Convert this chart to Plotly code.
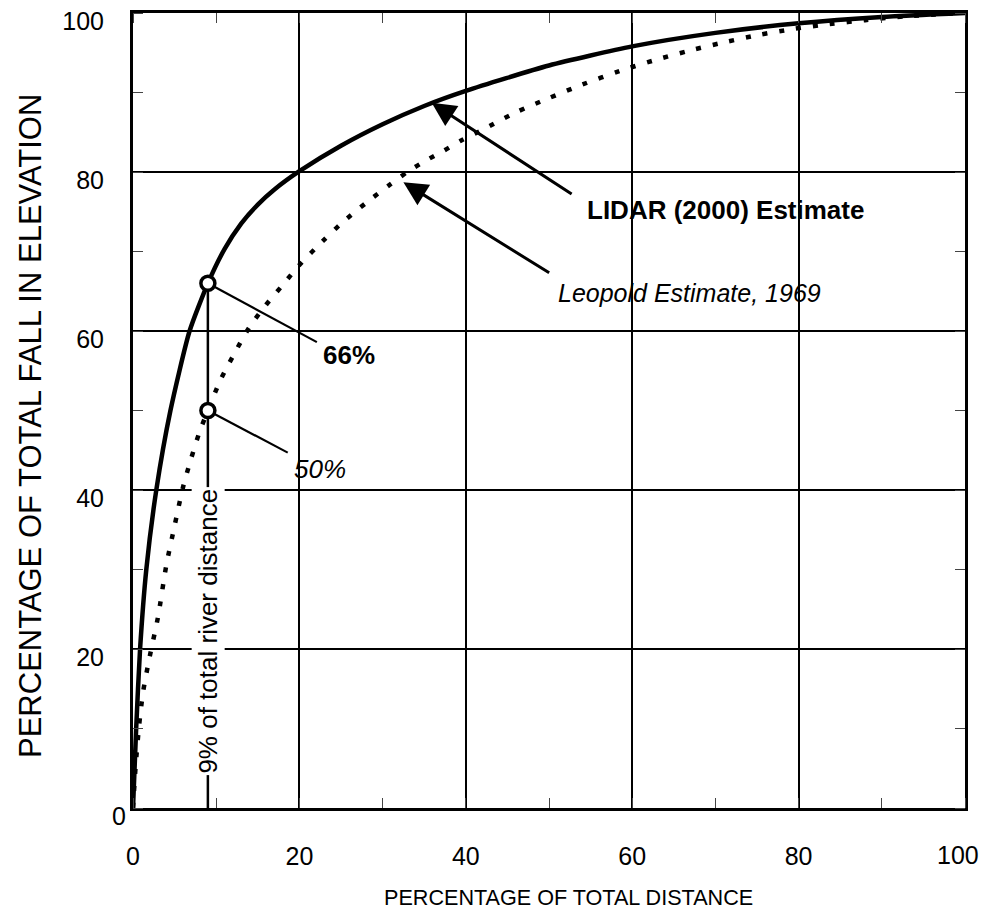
import plotly.graph_objects as go

# LIDAR (2000) estimate - solid curve
lidar_x = [0, 0.38, 0.85, 1.6, 2.8, 4.5, 6.8, 9, 11, 13, 15, 17, 20, 25, 30, 35, 40,
           50, 60, 70, 80, 90, 100]
lidar_y = [0, 10, 20, 30, 40, 50, 60, 66, 70.3, 73.5, 75.9, 77.8, 80.1, 83.3, 86.0,
           88.3, 90.2, 93.4, 95.8, 97.5, 98.7, 99.5, 100]

# Leopold estimate, 1969 - dotted curve
leopold_x = [0, 0.3, 0.7, 1.2, 2, 3, 4, 5, 6, 7, 8, 9, 10.5, 12, 14, 16, 18, 20, 22.8,
             25, 28, 31, 33.1, 35.3, 37.4, 39.5, 42, 46, 50, 54, 58.5, 62.5, 67, 71,
             75, 79.4, 83.7, 88, 93, 100]
leopold_y = [0, 5, 10, 14.5, 19, 24, 30.5, 35.5, 40.3, 44, 47.3, 50, 53.8, 56.8, 60.5,
             63.3, 65.8, 68.3, 71.3, 73.5, 76.1, 78.5, 80.1, 81.5, 82.7, 84, 85.3, 87.5,
             89.3, 91, 92.7, 94, 95.3, 96.3, 97.2, 98, 98.6, 99.1, 99.6, 100]

# highlighted points at 9% of river distance
mark_x = [9, 9]
mark_y = [66, 50]

tick_vals = [0, 20, 40, 60, 80, 100]
tick_text = ["0", "20", "40", "60", "80", "100"]

FONT = "Liberation Sans, Arial, sans-serif"

fig = go.Figure()

# vertical 9% line
fig.add_trace(go.Scatter(x=[mark_x[0], mark_x[0]], y=[mark_y[0], 0], mode="lines",
                         line=dict(color="black", width=2.5), hoverinfo="skip",
                         showlegend=False))
# leader lines to percentage labels
fig.add_trace(go.Scatter(x=[mark_x[0], 22.1], y=[mark_y[0], 58.6], mode="lines",
                         line=dict(color="black", width=2.2), showlegend=False))
fig.add_trace(go.Scatter(x=[mark_x[1], 18.6], y=[mark_y[1], 44.7], mode="lines",
                         line=dict(color="black", width=2.2), showlegend=False))

fig.add_trace(go.Scatter(x=leopold_x, y=leopold_y, mode="lines",
                         line=dict(color="black", width=4.5, dash="5px,12px",
                                   shape="spline", smoothing=0.8),
                         name="Leopold Estimate, 1969", showlegend=False))
fig.add_trace(go.Scatter(x=lidar_x, y=lidar_y, mode="lines",
                         line=dict(color="black", width=4.5, shape="spline", smoothing=0.6),
                         name="LIDAR (2000) Estimate", showlegend=False))

fig.add_trace(go.Scatter(x=mark_x, y=mark_y, mode="markers",
                         marker=dict(size=14, color="white",
                                     line=dict(color="black", width=3.5)),
                         showlegend=False))

axis_common = dict(
    range=[0, 100], tickvals=tick_vals,
    showgrid=True, gridcolor="black", gridwidth=2,
    showline=True, linecolor="black", linewidth=3, mirror="allticks",
    ticks="", zeroline=False, automargin=False, ticklabeloverflow="allow",
    tickfont=dict(family=FONT, size=25, color="black"),
    minor=dict(dtick=10, tick0=0, ticks="inside", ticklen=10, tickwidth=1,
               tickcolor="#444", showgrid=False),
)

# x "100" label is placed separately so it stays inside the page
fig.update_xaxes(**axis_common, ticktext=tick_text[:-1] + [""], ticklabelstandoff=24)
# y "0" label is placed separately (it sits offset in the original)
fig.update_yaxes(**axis_common, ticktext=[""] + tick_text[1:], ticklabelstandoff=21,
                 ticklabelshift=8)

annotations = [
    # arrows
    dict(x=35.9, y=88.7, ax=52.9, ay=77.1, xref="x", yref="y", axref="x", ayref="y",
         text="", showarrow=True, arrowhead=2, arrowsize=1.6, arrowwidth=3,
         arrowcolor="black"),
    dict(x=32.5, y=78.7, ax=50.2, ay=67.2, xref="x", yref="y", axref="x", ayref="y",
         text="", showarrow=True, arrowhead=2, arrowsize=1.6, arrowwidth=3,
         arrowcolor="black"),
    dict(x=54.3, y=75.2, xref="x", yref="y", text="<b>LIDAR (2000) Estimate</b>",
         showarrow=False, xanchor="left", yanchor="middle",
         font=dict(family=FONT, size=26, color="black")),
    dict(x=50.9, y=64.8, xref="x", yref="y", text="<i>Leopold Estimate, 1969</i>",
         showarrow=False, xanchor="left", yanchor="middle",
         font=dict(family=FONT, size=25, color="black")),
    dict(x=22.6, y=57.0, xref="x", yref="y", text="<b>66%</b>",
         showarrow=False, xanchor="left", yanchor="middle",
         font=dict(family=FONT, size=26, color="black")),
    dict(x=19.1, y=42.6, xref="x", yref="y", text="<i>50%</i>",
         showarrow=False, xanchor="left", yanchor="middle",
         font=dict(family=FONT, size=26, color="black")),
    dict(x=9, y=22.3, xref="x", yref="y", text="9% of total river distance",
         showarrow=False, textangle=-90, bgcolor="white", borderpad=1,
         font=dict(family=FONT, size=26, color="black")),
    dict(x=-0.0174, y=-0.01, xref="paper", yref="paper", text=tick_text[0],
         showarrow=False, xanchor="center", yanchor="middle",
         font=dict(family=FONT, size=25, color="black")),
    dict(x=0.9913, y=-0.0591, xref="paper", yref="paper", text=tick_text[-1],
         showarrow=False, xanchor="center", yanchor="middle",
         font=dict(family=FONT, size=25, color="black")),
    # axis titles
    dict(x=0.523, y=-0.113, xref="paper", yref="paper",
         text="PERCENTAGE OF TOTAL DISTANCE", showarrow=False,
         xanchor="center", yanchor="middle",
         font=dict(family=FONT, size=21.6, color="black")),
    dict(x=-0.1238, y=0.4805, xref="paper", yref="paper",
         text="PERCENTAGE OF TOTAL FALL IN ELEVATION", showarrow=False,
         textangle=-90, xanchor="center", yanchor="middle",
         font=dict(family=FONT, size=31, color="black")),
]

# page body adds an 8px offset; figure sized so the plot lands where the original is
fig.update_layout(
    width=972, height=902,
    margin=dict(l=125, r=15, t=5, b=102),
    paper_bgcolor="white", plot_bgcolor="white",
    annotations=annotations,
    showlegend=False,
    font=dict(family=FONT, size=20, color="black"),
)

fig.write_html("out.html")
